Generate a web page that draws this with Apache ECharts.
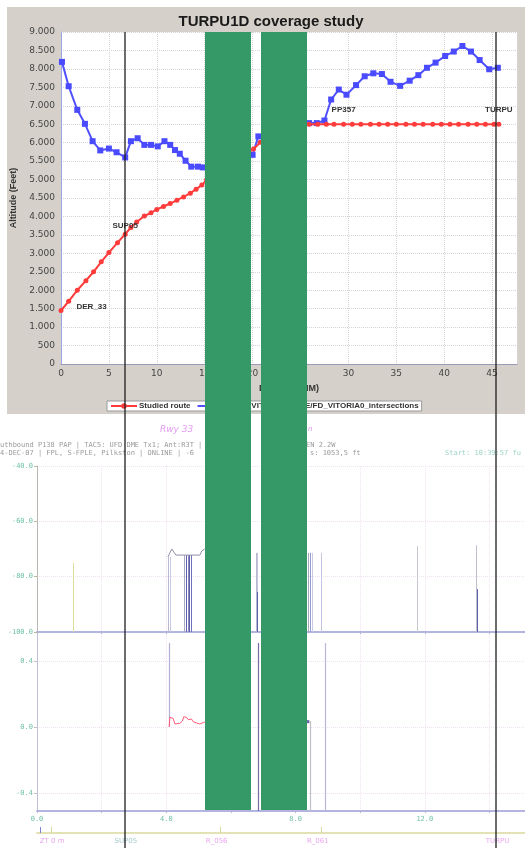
<!DOCTYPE html>
<html><head><meta charset="utf-8">
<script src="https://cdn.jsdelivr.net/npm/echarts@6/dist/echarts.min.js"></script>
<style>html,body{margin:0;padding:0;background:#fff}#c{width:525px;height:848px}</style>
</head><body><div id="c"></div>
<script>
// ---------- top chart data ----------
const routeDist = [0.0,0.8,1.7,2.6,3.4,4.2,5.0,5.9,6.7,7.3,7.9,8.7,9.4,10.0,10.7,11.4,12.1,12.8,13.5,14.1,14.7,15.2,
  15.9,16.6,17.3,18.0,18.7,19.4,20.1,20.8,21.6,22.4,23.3,24.1,25.0,
  25.9,26.8,27.7,28.5,29.5,30.4,31.3,32.3,33.2,34.1,35.0,36.0,36.9,37.8,38.8,39.7,40.6,41.5,42.5,43.4,44.3,45.2,45.7];
const routeAlt = [1450,1700,2000,2260,2500,2770,3020,3290,3520,3700,3850,4010,4100,4190,4270,4350,4440,4530,4630,4740,4850,4990,
  5100,5230,5350,5460,5570,5700,5830,6010,6200,6350,6450,6500,6500,
  6500,6500,6500,6500,6500,6500,6500,6500,6500,6500,6500,6500,6500,6500,6500,6500,6500,6500,6500,6500,6500,6500,6500];
const routeLabels = {0:'DER_33', 8:'SUP05', 39:'PP357', 57:'TURPU'};
const interDist = [0.1,0.8,1.7,2.5,3.3,4.1,5.0,5.8,6.7,7.3,8.0,8.7,9.4,10.1,10.8,11.4,11.9,12.4,13.0,13.6,14.3,14.8,
  15.5,16.3,17.1,17.9,18.7,19.3,20.0,20.6,21.5,22.4,23.3,24.2,25.1,
  25.9,26.7,27.5,28.2,29.0,29.8,30.8,31.7,32.6,33.5,34.4,35.4,36.4,37.3,38.2,39.1,40.1,41.0,41.9,42.8,43.7,44.7,45.6];
const interAlt = [8190,7530,6890,6510,6040,5790,5840,5740,5600,6040,6120,5940,5940,5900,6040,5940,5800,5700,5510,5350,5350,5330,
  5250,5150,5200,5300,5450,5500,5670,6170,6250,6200,6350,6450,6500,
  6530,6530,6600,7170,7440,7300,7560,7800,7880,7860,7650,7540,7680,7830,8030,8170,8350,8470,8620,8470,8240,7990,8030];
const routeName = 'Studied route';
const interName = 'SBVT_VITORIA0_DME/FD_VITORIA0_intersections';

// ---------- printout data ----------
const upSpikeX   = [1.11, 4.05, 4.11, 4.57, 4.67, 4.76, 6.77, 6.83, 8.38, 8.44, 8.53, 8.78, 11.78, 13.60];
const upSpikeTop = [-75.1,-72.9,-72.9,-72.2,-72.2,-72.2,-71.4,-71.4,-71.4,-71.4,-71.4,-71.4,-68.9,-68.6];
const upDarkX    = [4.62, 4.72, 6.80, 13.62];
const upDarkTop  = [-72.2,-72.2,-85.5,-84.5];
const upOutlineX = [4.05,4.17,4.23,4.30,4.60,5.04,5.10,5.19];
const upOutlineY = [-72.9,-70.0,-69.6,-72.2,-72.2,-72.2,-70.7,-70.0];
const loSegX     = [4.08, 6.86, 8.44, 8.93];
const loSegTop   = [0.51, 0.51, 0.036, 0.51];
const loSegBot   = [0.0, -0.51, -0.51, -0.51];
const wiggleX = [4.09,4.11,4.21,4.27,4.42,4.50,4.54,4.63,4.68,4.78,4.83,4.94,5.04,5.16,5.30,5.45];
const wiggleY = [0.0,0.058,0.052,0.018,0.022,0.036,0.062,0.058,0.044,0.048,0.032,0.024,0.018,0.028,0.03,0.025];
const markX = [8.38], markY = [0.032];
const trackTickX = [0.09, 0.43, 5.66, 8.81];
const trackNames = ['ZT 0 m','SUP05','R_056','R_061','TURPU'];
const trackNameX = [0.47, 2.75, 5.56, 8.69, 14.25];
const loYLabels = [-0.4, 0, 0.4];

// styles (kept apart from data)
const upSpikeColors = ['#dede9a','#b9b9cf','#c8c8e4','#a8a8c0','#8a8ab8','#7070b8','#b8b8d0','#c4c4e4','#a8a8b8','#9a9ad0','#c8c8e8','#c4c4e4','#c8c8d0','#c0c0cc'];
const upDarkColor = '#6060b0';
const loSegColors = ['#b0b0d8','#7a6aa8','#c0c0c8','#b8b8d8'];

const fmtK = v => v >= 1000 ? Math.floor(v/1000) + '.' + String(v % 1000).padStart(3,'0') : String(v);
const pair = (xs, ys) => xs.map((x,i) => [x, ys[i]]);

const routeData = routeDist.map((x,i) => {
  const d = {value:[x, routeAlt[i]]};
  if (routeLabels[i] !== undefined) {
    d.label = {show:true, formatter: routeLabels[i], fontSize:8, fontWeight:'bold', color:'#333', fontFamily:'Liberation Sans'};
    if (i === 0) { d.label.position = 'right'; d.label.distance = 13; d.label.offset = [0,-4]; }
    else if (i === 8) { d.label.position = 'top'; d.label.distance = 2; }
    else { d.label.position = 'top'; d.label.distance = 8; }
  }
  return d;
});

const teal = '#72c2a6';
const chart = echarts.init(document.getElementById('c'), null, {renderer:'canvas'});
chart.setOption({
  animation:false,
  title:{text:'TURPU1D coverage study', left:266, textAlign:'center', top:9,
    textStyle:{fontSize:15, fontWeight:'bold', color:'#1a1a1a', fontFamily:'Liberation Sans'}},
  legend:{data:[routeName, interName], left:107, top:401, backgroundColor:'#fff', borderColor:'#999', borderWidth:1,
    padding:[1,3], itemWidth:26, itemHeight:7, itemGap:6,
    textStyle:{fontSize:8, fontWeight:'bold', color:'#333', fontFamily:'Liberation Sans', padding:[0,0,0,-3]}},
  grid:[
    {left:61, top:32, right:8, bottom:484, show:true, backgroundColor:'#fff', borderWidth:0},
    {left:37, right:0, top:466, height:166},
    {left:37, right:0, top:632, height:179},
    {left:37, right:0, top:827, height:6}
  ],
  xAxis:[
    {gridIndex:0, type:'value', min:0, max:47.6, interval:5,
      axisLine:{onZero:false, lineStyle:{color:'#9a9ab8'}}, axisTick:{show:false},
      axisLabel:{color:'#444', fontSize:9, fontFamily:'DejaVu Sans', margin:5, showMaxLabel:false},
      splitLine:{lineStyle:{type:'dotted', color:'#d4d4d4'}},
      name:'Distance (NM)', nameLocation:'middle', nameGap:20,
      nameTextStyle:{fontSize:9, fontWeight:'bold', color:'#333', fontFamily:'Liberation Sans'}},
    {gridIndex:1, type:'value', min:0, max:15.1, interval:2,
      axisLine:{onZero:false, lineStyle:{color:'#b4b4e0', width:2}}, axisTick:{show:true, length:2, lineStyle:{color:'#b4b4d0'}},
      axisLabel:{show:false}, splitLine:{lineStyle:{type:'dotted', color:'#f0e2f0'}}},
    {gridIndex:2, type:'value', min:0, max:15.1, interval:2,
      axisLine:{onZero:false, lineStyle:{color:'#b4b4e0', width:2}}, axisTick:{show:true, length:2, lineStyle:{color:'#b4b4d0'}},
      axisLabel:{color:teal, fontSize:7, fontFamily:'DejaVu Sans Mono', margin:5, showMaxLabel:false,
        formatter: v => (Math.abs(v % 4) < 1e-9 ? v.toFixed(1) : '')},
      splitLine:{lineStyle:{type:'dotted', color:'#f0e2f0'}}},
    {gridIndex:3, type:'value', min:0, max:15.1,
      axisLine:{onZero:false, lineStyle:{color:'#e2e2b4', width:2}}, axisTick:{show:false}, axisLabel:{show:false}, splitLine:{show:false}}
  ],
  yAxis:[
    {gridIndex:0, type:'value', min:0, max:9000, interval:500,
      axisLine:{show:true, onZero:false, lineStyle:{color:'#9aa4e8'}}, axisTick:{show:false},
      axisLabel:{color:'#444', fontSize:9, fontFamily:'DejaVu Sans', margin:6, formatter:fmtK},
      splitLine:{lineStyle:{type:'dotted', color:'#d4d4d4'}},
      name:'Altitude (Feet)', nameLocation:'middle', nameGap:38, nameRotate:90,
      nameTextStyle:{fontSize:9, fontWeight:'bold', color:'#333', fontFamily:'Liberation Sans'}},
    {gridIndex:1, type:'value', min:-100, max:-40, interval:20,
      axisLine:{show:true, onZero:false, lineStyle:{color:'#b8b8b0'}}, axisTick:{show:true, length:3, lineStyle:{color:'#b8b8a0'}},
      axisLabel:{color:teal, fontSize:7, fontFamily:'DejaVu Sans Mono', margin:4, formatter: v => v.toFixed(1)},
      splitLine:{lineStyle:{type:'dotted', color:'#f0e2f0'}}},
    {gridIndex:2, type:'value', min:-0.51, max:0.576,
      axisLine:{show:true, onZero:false, lineStyle:{color:'#c0c0d8'}},
      axisTick:{show:true, length:3, customValues:loYLabels, lineStyle:{color:'#c0c0c0'}},
      axisLabel:{color:teal, fontSize:7, fontFamily:'DejaVu Sans Mono', margin:4, customValues:loYLabels, formatter: v => v.toFixed(1)},
      splitLine:{lineStyle:{type:'dotted', color:'#f0e2f0'}}},
    {gridIndex:3, type:'value', min:0, max:1, show:false}
  ],
  series:[
    {name:routeName, type:'line', xAxisIndex:0, yAxisIndex:0, data:routeData,
      symbol:'circle', symbolSize:5, lineStyle:{color:'#ff3c3c', width:2}, itemStyle:{color:'#ff3c3c'}, z:3},
    {name:interName, type:'line', xAxisIndex:0, yAxisIndex:0, data:pair(interDist, interAlt),
      symbol:'rect', symbolSize:6, lineStyle:{color:'#5050ff', width:2}, itemStyle:{color:'#4a4aff'}, z:2},
    {type:'lines', coordinateSystem:'cartesian2d', xAxisIndex:1, yAxisIndex:1, silent:true,
      data: upSpikeX.map((x,i) => ({coords:[[x,-100],[x,upSpikeTop[i]]], lineStyle:{color:upSpikeColors[i]}})),
      lineStyle:{width:1, opacity:1}},
    {type:'lines', coordinateSystem:'cartesian2d', xAxisIndex:1, yAxisIndex:1, silent:true,
      data: upDarkX.map((x,i) => ({coords:[[x,-100],[x,upDarkTop[i]]]})),
      lineStyle:{width:1, opacity:1, color:upDarkColor}},
    {type:'line', xAxisIndex:1, yAxisIndex:1, data:pair(upOutlineX, upOutlineY), showSymbol:false, silent:true,
      lineStyle:{color:'#9090a8', width:1}},
    {type:'lines', coordinateSystem:'cartesian2d', xAxisIndex:2, yAxisIndex:2, silent:true,
      data: loSegX.map((x,i) => ({coords:[[x,loSegBot[i]],[x,loSegTop[i]]], lineStyle:{color:loSegColors[i]}})),
      lineStyle:{width:1.2, opacity:1}},
    {type:'line', xAxisIndex:2, yAxisIndex:2, data:pair(wiggleX, wiggleY), showSymbol:false, silent:true,
      lineStyle:{color:'#ff5a7a', width:1}},
    {type:'scatter', xAxisIndex:2, yAxisIndex:2, data:pair(markX, markY), symbol:'rect', symbolSize:3, silent:true,
      itemStyle:{color:'#404090'}},
    {type:'lines', coordinateSystem:'cartesian2d', xAxisIndex:3, yAxisIndex:3, silent:true,
      data: trackTickX.map((x,i) => ({coords:[[x,0],[x,1]], lineStyle:{color: i===0 ? '#8080d0' : '#d8d8a0'}})),
      lineStyle:{width:1, opacity:1}},
    {type:'scatter', xAxisIndex:3, yAxisIndex:3, symbolSize:0, silent:true,
      data: trackNameX.map((x,i) => ({value:[x,0], label:{show:true, formatter:trackNames[i], position:'bottom', distance:5,
        fontSize:7, fontFamily:'DejaVu Sans', color: i===1 ? '#8cbcbc' : '#e28ee8'}}))}
  ],
  graphic:[
    {type:'rect', z:-10, shape:{x:7, y:7, width:518, height:407}, style:{fill:'#d5d1ca'}},
    {type:'text', z:5, x:160, y:430, style:{text:'Rwy 33', fontSize:9, fontStyle:'italic', fontFamily:'DejaVu Sans', fill:'#e49cf2', textVerticalAlign:'middle', verticalAlign:'middle'}},
    {type:'text', z:5, x:246, y:428, style:{text:'v', fontSize:8, fontStyle:'italic', fill:'#e49cf2', textVerticalAlign:'middle', verticalAlign:'middle'}},
    {type:'text', z:5, x:308, y:429, style:{text:'n', fontSize:8, fontStyle:'italic', fill:'#e49cf2', textVerticalAlign:'middle', verticalAlign:'middle'}},
    {type:'text', z:5, x:0, y:445, style:{text:'uthbound P138 PAP | TAC5: UFD DME Tx1; Ant:R3T | 114.3', fontSize:7, fontFamily:'DejaVu Sans Mono', fill:'#9a9a9a', textVerticalAlign:'middle', verticalAlign:'middle'}},
    {type:'text', z:5, x:306, y:445, style:{text:'EN 2.2W', fontSize:7, fontFamily:'DejaVu Sans Mono', fill:'#9a9a9a', textVerticalAlign:'middle', verticalAlign:'middle'}},
    {type:'text', z:5, x:0, y:453, style:{text:'4-DEC-07 | FPL, S-FPLE, Pilkston | ONLINE | -6', fontSize:7, fontFamily:'DejaVu Sans Mono', fill:'#9a9a9a', textVerticalAlign:'middle', verticalAlign:'middle'}},
    {type:'text', z:5, x:310, y:453, style:{text:'s: 1053,5 ft', fontSize:7, fontFamily:'DejaVu Sans Mono', fill:'#9a9a9a', textVerticalAlign:'middle', verticalAlign:'middle'}},
    {type:'text', z:5, x:445, y:453, style:{text:'Start: 10:39:57 fu', fontSize:7, fontFamily:'DejaVu Sans Mono', fill:'#9cd4c6', textVerticalAlign:'middle', verticalAlign:'middle'}},
    {type:'rect', z:100, shape:{x:205, y:32, width:46, height:778}, style:{fill:'#349966'}},
    {type:'rect', z:100, shape:{x:261, y:32, width:46, height:778}, style:{fill:'#349966'}},
    {type:'line', z:101, shape:{x1:125, y1:32, x2:125, y2:848}, style:{stroke:'#1e1e1e', lineWidth:1.3}},
    {type:'line', z:101, shape:{x1:496, y1:32, x2:496, y2:848}, style:{stroke:'#1e1e1e', lineWidth:1.3}}
  ]
});
</script></body></html>
